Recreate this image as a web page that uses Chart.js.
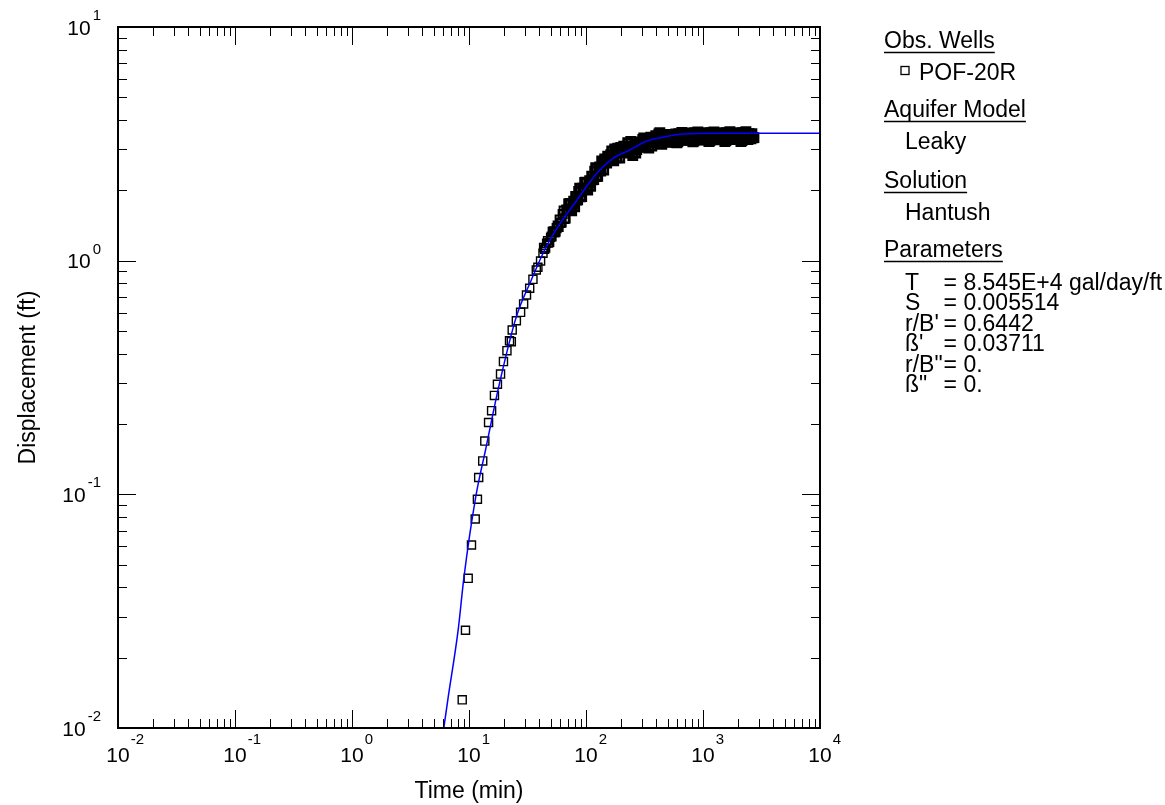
<!DOCTYPE html>
<html>
<head>
<meta charset="utf-8">
<script src="https://cdn.jsdelivr.net/npm/chart.js@4.4.1/dist/chart.umd.min.js"></script>
<style>
  html, body { margin: 0; padding: 0; background: #fff; }
  #wrap { width: 1165px; height: 805px; }
</style>
</head>
<body>
<div id="wrap"><canvas id="aqChart" width="1165" height="805"></canvas></div>
<script>
// observed drawdown at POF-20R (time in min, displacement in ft)
const obsTime = [
  8.75, 9.33, 9.84, 10.5, 11.3, 11.8, 12.1, 13.1, 13.65, 14.7,
  15.6, 16.5, 17.5, 18.6, 19.7, 21.1, 22.2, 23.0, 23.4, 25.4,
  27.6, 29.3, 31.0, 33.0, 35.2, 37.6, 38.8, 40.9, 42.9,
  43.43, 45.18, 46.99, 48.88, 50.85, 52.89, 55.02, 57.23, 59.53, 61.93,
  64.41, 67.00, 69.70, 72.50, 75.42, 78.45, 81.60, 84.88, 88.30, 91.85,
  95.53, 99.37, 103.4, 107.5, 111.9, 116.4, 121.0, 125.9, 131.0, 136.2,
  141.7, 147.4, 153.3, 159.5, 165.9, 172.6, 179.5, 186.7, 194.3, 202.1,
  210.2, 218.7, 227.5, 236.6, 246.1, 256.0, 266.3, 277.0, 288.2, 299.7,
  311.7, 324.3, 337.3, 350.9, 365.0, 379.6, 394.9, 410.8, 427.3, 444.5,
  462.3, 480.9, 500.3, 520.4, 541.3, 563.1, 585.7, 609.3, 633.8, 659.2,
  685.7, 713.3, 742.0, 771.8, 802.9, 835.2, 868.7, 903.7, 940.0, 977.8,
  1017, 1058, 1101, 1145, 1191, 1239, 1289, 1341, 1395, 1451,
  1508, 1569, 1632, 1698, 1766, 1837, 1911, 1988, 2068, 2151,
  2237, 2327, 2421, 2518, 2619, 2725,
  // readings in between
  44.29, 46.08, 47.93, 49.85, 51.86, 53.94, 56.11, 58.37, 60.71, 63.16,
  65.69, 68.33, 71.09, 73.94, 76.92, 80.01, 83.22, 86.57, 90.06, 93.68,
  97.43, 101.3, 105.5, 109.6, 114.1, 118.7, 123.4, 128.4, 133.6, 138.9,
  144.5, 150.3, 156.4, 162.7, 169.2, 176.0, 183.1, 190.4, 198.2, 206.1,
  214.4, 223.1, 232.0, 241.3, 251.0, 261.1, 271.6, 282.5, 293.9, 305.7,
  317.9, 330.8, 344.0, 357.9, 372.3, 387.2, 402.8, 419.0, 435.8, 453.3,
  471.5, 490.5, 510.3, 530.8, 552.1, 574.3, 597.4, 621.4, 646.4, 672.3,
  699.3, 727.5, 756.8, 787.2, 818.9, 851.8, 886.0, 921.7, 958.7, 997.3,
  1037, 1079, 1123, 1168, 1215, 1264, 1315, 1368, 1423, 1480,
  1538, 1600, 1664, 1732, 1801, 1874, 1949, 2028, 2109, 2194,
  2282, 2373, 2469, 2568, 2671
];
const obsDisp = [
  0.0132, 0.0262, 0.0437, 0.0607, 0.0784, 0.0953, 0.118, 0.139, 0.169, 0.203,
  0.228, 0.265, 0.296, 0.327, 0.370, 0.412, 0.454, 0.450, 0.505, 0.553,
  0.601, 0.653, 0.713, 0.762, 0.832, 0.912, 0.937, 0.997, 1.076,
  1.139, 1.133, 1.217, 1.198, 1.269, 1.337, 1.329, 1.414, 1.500, 1.457,
  1.640, 1.515, 1.640, 1.757, 1.635, 1.797, 1.882, 1.822, 2.042, 1.882,
  2.030, 2.167, 2.006, 2.199, 2.299, 2.225, 2.497, 2.296, 2.517, 2.670,
  2.443, 2.644, 2.797, 2.681, 2.947, 2.678, 2.878, 3.029, 2.747, 2.947,
  3.090, 2.932, 3.198, 2.890, 3.005, 3.096, 2.890, 3.065, 3.221, 3.065,
  3.350, 3.065, 3.243, 3.330, 3.096, 3.272, 3.423, 3.243, 3.526, 3.148,
  3.320, 3.467, 3.218, 3.323, 3.433, 3.277, 3.484, 3.227, 3.396, 3.540,
  3.277, 3.383, 3.484, 3.317, 3.518, 3.253, 3.416, 3.553, 3.285, 3.383,
  3.491, 3.323, 3.526, 3.259, 3.423, 3.560, 3.291, 3.389, 3.494, 3.326,
  3.529, 3.262, 3.426, 3.564, 3.295, 3.392, 3.494, 3.326, 3.529, 3.262,
  3.426, 3.564, 3.295, 3.392, 3.494, 3.360,
  // readings in between
  1.120, 1.187, 1.190, 1.258, 1.329, 1.320, 1.378, 1.393, 1.449, 1.584,
  1.508, 1.648, 1.748, 1.663, 1.757, 1.701, 1.816, 1.977, 1.877, 2.044,
  2.161, 2.044, 2.154, 2.079, 2.218, 2.417, 2.291, 2.490, 2.419, 2.618,
  2.723, 2.615, 2.686, 2.839, 2.715, 3.005, 2.756, 2.958, 3.050, 2.901,
  2.953, 3.093, 2.938, 3.236, 2.819, 3.141, 2.991, 3.141, 3.081, 3.301,
  3.081, 3.265, 3.035, 3.373, 3.198, 3.346, 3.268, 3.484, 3.236, 3.413,
  3.295, 3.211, 3.416, 3.265, 3.308, 3.413, 3.191, 3.494, 3.366, 3.275,
  3.481, 3.323, 3.356, 3.456, 3.227, 3.526, 3.389, 3.291, 3.491, 3.323,
  3.356, 3.460, 3.230, 3.529, 3.392, 3.295, 3.494, 3.326, 3.359, 3.460,
  3.230, 3.529, 3.392, 3.295, 3.494, 3.326, 3.359, 3.460, 3.230, 3.529,
  3.392, 3.295, 3.494, 3.326, 3.359
];
// Hantush leaky type curve
const fitTime = [6.09, 6.59, 8.08, 9.03, 11.4, 13.85, 18.24, 25.4, 34.1, 44.3, 57.6, 80.0, 103.4, 131.0, 170.2, 236.5, 328.7, 456, 676, 1394, 10000];
const fitDisp = [0.0100, 0.0132, 0.0263, 0.0437, 0.0971, 0.155, 0.299, 0.576, 0.827, 1.111, 1.398, 1.760, 2.108, 2.443, 2.743, 2.976, 3.246, 3.373, 3.484, 3.509, 3.510];

const xDecades = [-2, -1, 0, 1, 2, 3, 4];
const yDecades = [-2, -1, 0, 1];

const legendHeads = ['Obs. Wells', 'Aquifer Model', 'Solution', 'Parameters'];
const wellName = 'POF-20R';
const modelName = 'Leaky';
const solutionName = 'Hantush';
const paramNames = ['T', 'S', "r/B'", "\u00DF'", 'r/B"', '\u00DF"'];
const paramValues = ['= 8.545E+4 gal/day/ft', '= 0.005514', '= 0.6442', '= 0.03711', '= 0.', '= 0.'];

const FONT = '"Liberation Sans", Arial, Helvetica, sans-serif';

// closely spaced readings merge into a solid band in the original plot
function squareEdge(c) {
  const t = c.raw ? c.raw.x : 0;
  if (t < 50) return 1.4;
  if (t < 68) return 2;
  return 2.8;
}

const framePlugin = {
  id: 'framePlugin',
  afterDraw(chart) {
    const ctx = chart.ctx;
    const a = chart.chartArea;
    const xs = chart.scales.x, ys = chart.scales.y;
    ctx.save();
    ctx.strokeStyle = '#000';
    ctx.fillStyle = '#000';

    // ticks point inwards on all four sides
    ctx.lineWidth = 1;
    function tickX(v, len) {
      const px = Math.round(xs.getPixelForValue(v)) + 0.5;
      ctx.beginPath();
      ctx.moveTo(px, a.bottom); ctx.lineTo(px, a.bottom - len);
      ctx.moveTo(px, a.top); ctx.lineTo(px, a.top + len);
      ctx.stroke();
    }
    function tickY(v, len) {
      const py = Math.round(ys.getPixelForValue(v)) + 0.5;
      ctx.beginPath();
      ctx.moveTo(a.left, py); ctx.lineTo(a.left + len, py);
      ctx.moveTo(a.right, py); ctx.lineTo(a.right - len, py);
      ctx.stroke();
    }
    xDecades.forEach((d, i) => {
      tickX(Math.pow(10, d), 18);
      if (i < xDecades.length - 1) for (let m = 2; m < 10; m++) tickX(m * Math.pow(10, d), 9);
    });
    yDecades.forEach((d, i) => {
      tickY(Math.pow(10, d), 18);
      if (i < yDecades.length - 1) for (let m = 2; m < 10; m++) tickY(m * Math.pow(10, d), 9);
    });

    ctx.lineWidth = 2;
    ctx.strokeRect(a.left, a.top, a.right - a.left, a.bottom - a.top);

    // 10^n tick labels
    ctx.textBaseline = 'alphabetic';
    xDecades.forEach(d => {
      const px = xs.getPixelForValue(Math.pow(10, d));
      ctx.font = '21px ' + FONT;
      const w = ctx.measureText('10').width;
      ctx.textAlign = 'center';
      ctx.fillText('10', px, 762);
      ctx.font = '15px ' + FONT;
      ctx.textAlign = 'left';
      ctx.fillText(String(d), px + w / 2 + 1, 744);
    });
    yDecades.forEach(d => {
      const py = ys.getPixelForValue(Math.pow(10, d));
      ctx.font = '15px ' + FONT;
      const ew = ctx.measureText(String(d)).width;
      ctx.textAlign = 'right';
      ctx.fillText(String(d), 101, py - 7);
      ctx.font = '21px ' + FONT;
      ctx.fillText('10', 101 - ew - 2, py + 7.5);
    });

    // axis titles
    ctx.font = '23px ' + FONT;
    ctx.textAlign = 'center';
    ctx.fillText('Time (min)', (a.left + a.right) / 2, 798);
    ctx.save();
    ctx.translate(35, (a.top + a.bottom) / 2);
    ctx.rotate(-Math.PI / 2);
    ctx.fillText('Displacement (ft)', 0, 0);
    ctx.restore();

    // side legend
    ctx.textAlign = 'left';
    ctx.font = '23px ' + FONT;
    const headY = [48, 117, 188, 257];
    legendHeads.forEach((h, i) => {
      ctx.fillText(h, 884, headY[i]);
      const w = ctx.measureText(h).width;
      ctx.lineWidth = 1.5;
      ctx.beginPath();
      ctx.moveTo(884, headY[i] + 4.5);
      ctx.lineTo(884 + w, headY[i] + 4.5);
      ctx.stroke();
    });
    const itemX = 905;
    ctx.lineWidth = 1.3;
    ctx.strokeRect(itemX - 4, 66.5, 8, 8);
    ctx.fillText(wellName, itemX + 14, 80);
    ctx.fillText(modelName, itemX, 149);
    ctx.fillText(solutionName, itemX, 220);
    const eqX = itemX + ctx.measureText('r/B"').width + 1;
    paramNames.forEach((n, i) => {
      const y = 290 + i * 20.4;
      ctx.fillText(n, itemX, y);
      ctx.fillText(paramValues[i], eqX, y);
    });
    ctx.restore();
  }
};

new Chart(document.getElementById('aqChart'), {
  type: 'scatter',
  data: {
    datasets: [
      {
        type: 'line',
        label: 'Hantush',
        data: fitTime.map((t, i) => ({ x: t, y: fitDisp[i] })),
        borderColor: '#0000ff',
        borderWidth: 1.5,
        pointRadius: 0,
        fill: false,
        cubicInterpolationMode: 'monotone'
      },
      {
        label: wellName,
        data: obsTime.map((t, i) => ({ x: t, y: obsDisp[i] })),
        pointStyle: 'rect',
        pointRadius: 5.7,
        borderColor: '#000',
        borderWidth: squareEdge,
        backgroundColor: 'rgba(0,0,0,0)',
        showLine: false
      }
    ]
  },
  options: {
    responsive: false,
    animation: false,
    layout: { padding: { left: 118, right: 345, top: 27, bottom: 77 } },
    plugins: { legend: { display: false }, tooltip: { enabled: false } },
    scales: {
      x: { type: 'logarithmic', min: 0.01, max: 10000, display: false },
      y: { type: 'logarithmic', min: 0.01, max: 10, display: false }
    }
  },
  plugins: [framePlugin]
});
</script>
</body>
</html>
